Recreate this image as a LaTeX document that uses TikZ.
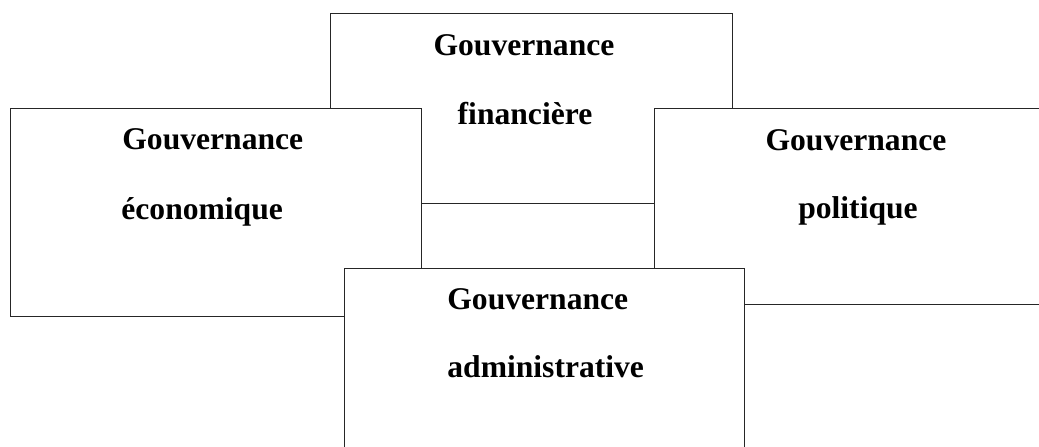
\documentclass[tikz,border=0pt]{standalone}
\usepackage{fontspec}
\setmainfont{Liberation Serif}
\usetikzlibrary{positioning}

\begin{document}
\begin{tikzpicture}[x=0.5pt, y=-0.5pt,
    every node/.append style={font=\fontsize{15.8}{19}\selectfont\bfseries},
    box/.style={draw=black!85, line width=0.5pt, fill=white, rectangle, inner sep=0pt},
    word/.style={inner sep=0pt}]
    \useasboundingbox (0,0) rectangle (1039,446);
    \clip (0,0) rectangle (1039,446);
    % boxes, back to front
    \node(financiere)[box, minimum width=201pt, minimum height=95pt] at (531,108) {};
    \node(financiereA)[word, anchor=base] at (524,55) {Gouvernance};
    \node(financiereB)[word, anchor=base] at (525,124) {financière};

    \node(economique)[box, minimum width=205.5pt, minimum height=104pt] at (215.5,212) {};
    \node(economiqueA)[word, anchor=base west] at (122,149) {Gouvernance};
    \node(economiqueB)[word, anchor=base west] at (121,219) {économique};

    \node(politique)[box, minimum width=203pt, minimum height=98pt] at (857,206) {};
    \node(politiqueA)[word, anchor=base] at (856,150) {Gouvernance};
    \node(politiqueB)[word, anchor=base] at (858,218) {politique};

    \node(administrative)[box, minimum width=200pt, minimum height=106pt] at (544,374) {};
    \node(administrativeA)[word, anchor=base west] at (447,309) {Gouvernance};
    \node(administrativeB)[word, anchor=base west] at (447,377) {administrative};
\end{tikzpicture}
\end{document}
